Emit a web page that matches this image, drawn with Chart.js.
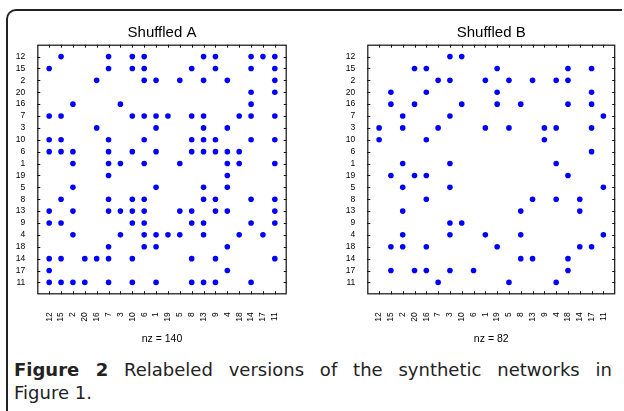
<!DOCTYPE html>
<html>
<head>
<meta charset="utf-8">
<script src="https://cdn.jsdelivr.net/npm/chart.js@4.4.1/dist/chart.umd.min.js"></script>
<style>
body { margin: 0; width: 624px; height: 411px; overflow: hidden; background: #fff; position: relative; }
.frame { position: absolute; left: 6px; top: 9px; width: 614px; height: 420px; border-top: 2px solid #222; border-left: 2px solid #222; border-top-left-radius: 10px; }
#wrapA { position: absolute; left: 0; top: 20px; width: 300px; height: 330px; }
#wrapB { position: absolute; left: 330px; top: 20px; width: 294px; height: 330px; }
.caption { position: absolute; left: 14px; top: 359px; width: 598px; font-family: "DejaVu Sans", sans-serif; font-size: 18px; line-height: 22.5px; color: #222; }
.line1 { text-align: justify; text-align-last: justify; }
</style>
</head>
<body>
<div class="frame"></div>
<div id="wrapA"><canvas id="chartA"></canvas></div>
<div id="wrapB"><canvas id="chartB"></canvas></div>
<div class="caption">
  <div class="line1"><b>Figure 2</b> Relabeled versions of the synthetic networks in</div>
  <div>Figure 1.</div>
</div>
<script>
// node order used on both axes
const nodeLabels = ["12", "15", "2", "20", "16", "7", "3", "10", "6", "1", "19", "5", "8", "13", "9", "4", "18", "14", "17", "11"];

// for every row (same order as nodeLabels): positions of the nonzero columns
const shuffledA = [
    [2, 6, 8, 9, 14, 15, 18, 19, 20],
    [1, 6, 8, 9, 13, 15, 18, 20],
    [5, 9, 10, 12, 14, 16, 20],
    [18, 20],
    [3, 7, 18],
    [1, 2, 8, 9, 10, 11, 13, 14, 17, 18, 20],
    [5, 10, 14, 16],
    [1, 2, 6, 9, 13, 14, 15, 18, 20],
    [1, 2, 3, 6, 8, 10, 13, 14, 15, 16, 17],
    [3, 6, 7, 9, 12, 16, 17, 20],
    [6, 16],
    [3, 10, 14, 16],
    [2, 6, 8, 9, 14, 15, 18, 20],
    [1, 3, 6, 7, 8, 9, 12, 13, 15, 16, 20],
    [1, 2, 8, 9, 13, 14, 18, 20],
    [3, 7, 9, 10, 11, 12, 14, 17, 19],
    [6, 9, 10, 16],
    [1, 2, 4, 5, 6, 8, 13, 15, 20],
    [1, 16],
    [1, 2, 3, 4, 6, 8, 10, 13, 14, 15, 18]
];

const shuffledB = [
    [7, 8],
    [4, 5, 11, 17, 19],
    [6, 7, 10, 12, 14, 16, 17],
    [2, 5, 11, 19],
    [2, 4, 8, 11, 13, 17, 19],
    [3, 7, 20],
    [1, 3, 6, 10, 12, 15, 16, 19],
    [1, 5, 15],
    [19],
    [3, 7, 16],
    [2, 4, 5, 17],
    [3, 7, 20],
    [5, 14, 16, 18],
    [3, 13, 18],
    [7, 8],
    [3, 7, 10, 13, 20],
    [2, 3, 5, 11, 18, 19],
    [13, 14, 17],
    [2, 4, 5, 7, 9, 17],
    [6, 12, 16]
];

const plotTitles = ["Shuffled A", "Shuffled B"];

function toPoints(rows) {
    const pts = [];
    rows.forEach((cols, r) => {
        cols.forEach(c => pts.push({ x: c, y: r + 1 }));
    });
    return pts;
}

// box round the plot with short inward ticks, like a spy plot
const boxTicks = {
    id: "boxTicks",
    beforeDatasetsDraw(chart) {
        const { ctx, chartArea: a, scales: { x, y } } = chart;
        ctx.save();
        ctx.strokeStyle = "#111";
        ctx.lineWidth = 1.2;
        ctx.strokeRect(a.left + 0.5, a.top + 0.5, a.width - 1, a.height - 1);
        ctx.lineWidth = 1;
        ctx.beginPath();
        for (let i = 1; i <= nodeLabels.length; i++) {
            const px = Math.round(x.getPixelForValue(i)) + 0.5;
            const py = Math.round(y.getPixelForValue(i)) + 0.5;
            ctx.moveTo(px, a.top); ctx.lineTo(px, a.top + 3);
            ctx.moveTo(px, a.bottom); ctx.lineTo(px, a.bottom - 3);
            ctx.moveTo(a.left, py); ctx.lineTo(a.left + 3, py);
            ctx.moveTo(a.right, py); ctx.lineTo(a.right - 3, py);
        }
        ctx.stroke();
        ctx.restore();
    }
};

function makeSpy(canvasId, rows, title, padRight) {
    const points = toPoints(rows);
    const tickFont = { family: "'Liberation Sans', Arial, sans-serif", size: 8.5 };
    const everyNode = scale => {
        scale.ticks = nodeLabels.map((_, i) => ({ value: i + 1 }));
    };
    return new Chart(document.getElementById(canvasId), {
        type: "scatter",
        data: {
            datasets: [{
                data: points,
                backgroundColor: "#0000ff",
                borderWidth: 0,
                pointRadius: 2.8,
                pointHoverRadius: 2.8
            }]
        },
        options: {
            responsive: true,
            maintainAspectRatio: false,
            animation: false,
            events: [],
            layout: { padding: { left: 0, right: padRight, top: 0, bottom: 0 } },
            plugins: {
                legend: { display: false },
                tooltip: { enabled: false },
                title: {
                    display: true,
                    text: title,
                    fullSize: false,
                    color: "#000",
                    font: { family: "'Liberation Sans', Arial, sans-serif", size: 15, weight: "normal" },
                    padding: { top: 3.7, bottom: 3 }
                }
            },
            scales: {
                x: {
                    type: "linear",
                    min: 0,
                    max: nodeLabels.length + 1,
                    afterBuildTicks: everyNode,
                    afterFit: scale => { scale.height = 55.7; },
                    grid: { display: false },
                    border: { display: false },
                    ticks: {
                        autoSkip: false,
                        minRotation: 90,
                        maxRotation: 90,
                        padding: 10,
                        color: "#000",
                        font: tickFont,
                        callback: v => nodeLabels[v - 1]
                    },
                    title: {
                        display: true,
                        text: "nz = " + points.length,
                        color: "#000",
                        font: { family: "'Liberation Sans', Arial, sans-serif", size: 10.5 },
                        padding: { top: 0, bottom: 4.2 }
                    }
                },
                y: {
                    type: "linear",
                    reverse: true,
                    min: 0,
                    max: nodeLabels.length + 1,
                    afterBuildTicks: everyNode,
                    afterFit: scale => { scale.width = 37.3; },
                    grid: { display: false },
                    border: { display: false },
                    ticks: {
                        autoSkip: false,
                        padding: 4,
                        color: "#000",
                        font: tickFont,
                        callback: v => nodeLabels[v - 1]
                    }
                }
            }
        },
        plugins: [boxTicks]
    });
}

makeSpy("chartA", shuffledA, plotTitles[0], 13.3);
makeSpy("chartB", shuffledB, plotTitles[1], 7);
</script>
</body>
</html>
